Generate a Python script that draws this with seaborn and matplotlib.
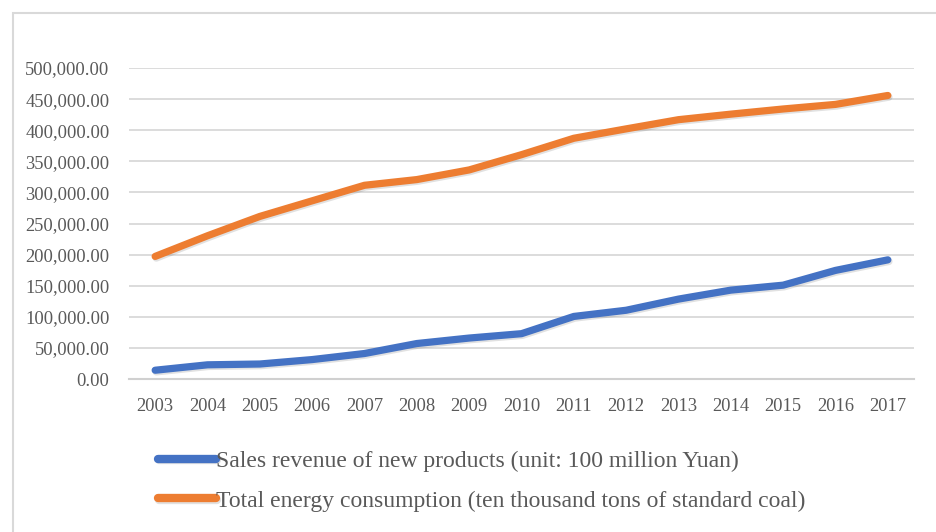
import matplotlib
matplotlib.use("Agg")
import matplotlib.pyplot as plt
import matplotlib.patheffects as pe
from matplotlib.patches import Rectangle
from matplotlib.ticker import FuncFormatter
import pandas as pd
import seaborn as sns

# data
years = [str(y) for y in range(2003, 2018)]
sales_revenue = [14097, 22809, 24097, 31233, 40976, 57027, 65838, 72864,
                 100583, 110530, 128461, 142895, 150857, 174604, 191569]
energy_use = [197083, 230281, 261369, 286467, 311442, 320611, 336126, 360648,
              387043, 402138, 416913, 425806, 434113, 441492, 455827]
series_names = ["Sales revenue of new products (unit: 100 million Yuan)",
                "Total energy consumption (ten thousand tons of standard coal)"]
y_ticks = list(range(0, 500001, 50000))

df = pd.DataFrame({
    "year": years * 2,
    "value": sales_revenue + energy_use,
    "series": [series_names[0]] * len(years) + [series_names[1]] * len(years),
})

sns.set_theme(style="white")
plt.rcParams["font.family"] = ["Liberation Serif", "DejaVu Serif"]
TXT = "#595959"
GRID = "#d9d9d9"

fig = plt.figure(figsize=(9.37, 5.32), dpi=100)
ax = fig.add_axes([129 / 937, 1 - 379 / 532, (914 - 129) / 937, (379 - 68) / 532])

sns.lineplot(data=df, x="year", y="value", hue="series", hue_order=series_names,
             palette=["#4472C4", "#ED7D31"], linewidth=5.2, sort=False, ax=ax,
             legend=True)
for line in ax.lines:
    line.set_solid_capstyle("round")
    line.set_solid_joinstyle("round")
    line.set_path_effects([pe.SimpleLineShadow(offset=(0.8, -1.2), shadow_color="#777777", alpha=0.22),
                           pe.Normal()])

ax.set_xlim(-0.5, len(years) - 0.5)
ax.set_ylim(0, 500000)
ax.set_yticks(y_ticks)
ax.yaxis.set_major_formatter(FuncFormatter(lambda v, p: f"{v:,.2f}"))
ax.grid(axis="y", color=GRID, linewidth=1.3)
ax.grid(axis="x", visible=False)
ax.set_axisbelow(True)
for s in ["top", "right", "left"]:
    ax.spines[s].set_visible(False)
ax.spines["bottom"].set_color("#d0d0d0")
ax.spines["bottom"].set_linewidth(1.5)
ax.tick_params(axis="both", length=0, labelsize=13.3, labelcolor=TXT)
ax.tick_params(axis="y", pad=14)
ax.tick_params(axis="x", pad=14)
ax.set_xlabel("")
ax.set_ylabel("")

handles, labels = ax.get_legend_handles_labels()
ax.get_legend().remove()
leg = fig.legend(handles, labels, loc="upper left", bbox_to_anchor=(137 / 937, 1 - 429 / 532),
                 frameon=False, fontsize=17, labelcolor=TXT, handlelength=2.45,
                 handletextpad=0.0, labelspacing=0.78)
for h in leg.get_lines():
    h.set_linewidth(6)
    h.set_solid_capstyle("round")

# outer chart border (cut off at right and bottom in the reference)
fig.patches.append(Rectangle((13.5 / 937, -0.1), 1.2, 1.1 - 12.5 / 532,
                             transform=fig.transFigure, fill=False,
                             edgecolor=GRID, linewidth=1.5))

fig.savefig("out.png", dpi=100, facecolor="white")
